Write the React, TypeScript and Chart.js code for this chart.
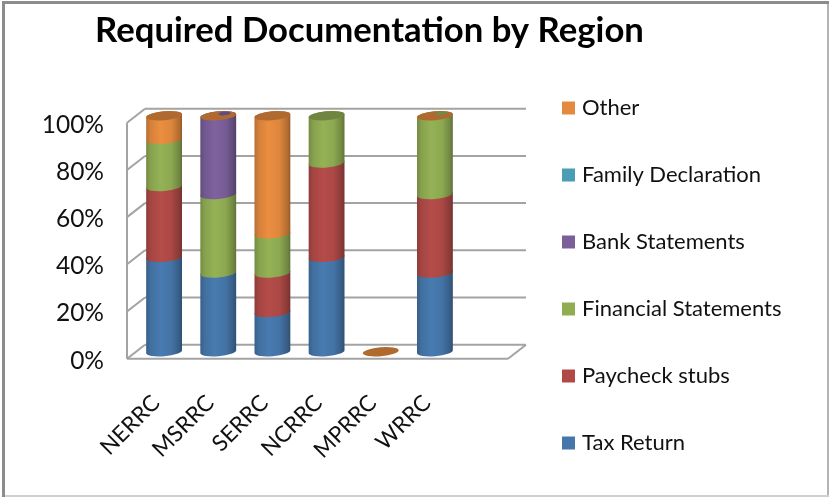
import React, { useEffect, useRef } from "react";
import { Chart, registerables } from "chart.js";

Chart.register(...registerables);

const categories = ["NERRC", "MSRRC", "SERRC", "NCRRC", "MPRRC", "WRRC"];
const taxReturn = [40, 33.33, 16.67, 40, 0, 33.33];
const paycheckStubs = [30, 0, 16.67, 40, 0, 33.33];
const financialStatements = [20, 33.33, 16.67, 20, 0, 33.34];
const bankStatements = [0, 33.34, 0, null, 0, 0];
const familyDeclaration = [0, 0, 0, null, 0, 0];
const other = [10, 0, 50, null, 0, 0];
const yTicks = [0, 20, 40, 60, 80, 100];

const seriesNames = ["Tax Return", "Paycheck stubs", "Financial Statements", "Bank Statements", "Family Declaration", "Other"];
const seriesValues = [taxReturn, paycheckStubs, financialStatements, bankStatements, familyDeclaration, other];
const seriesColors = ["#4677ab", "#b04a47", "#90ad53", "#7a5f9a", "#4a9db5", "#e48a3e"];

const W = 829;
const H = 497;
const FONT = "Lato, Carlito, sans-serif";
const TILT = (-5 * Math.PI) / 180;
const RY = 4.5;

function shade(hex: string, f: number) {
  const n = parseInt(hex.slice(1), 16);
  const c = [(n >> 16) & 255, (n >> 8) & 255, n & 255].map((v) => Math.round(Math.min(255, v * f)));
  return `rgb(${c[0]},${c[1]},${c[2]})`;
}

const scenePlugin = {
  id: "scene",
  beforeLayout(chart: any) {
    const legend = chart.legend;
    if (legend && !legend._patched) {
      legend._patched = true;
      const orig = legend.update.bind(legend);
      legend.update = (w: number, _h: number, m: any) => {
        orig(w, 800, m);
        legend.width = W - 462;
      };
    }
  },
  afterLayout(chart: any) {
    const legend = chart.legend;
    legend.left = 521;
    legend.right = 829;
    legend.top = 21;
    legend.bottom = 530;
    const t = chart.titleBlock;
    t.left = -45;
    t.right = W - 45;
  },
  beforeDraw(chart: any) {
    const c = chart.ctx;
    c.save();
    c.fillStyle = "#fff";
    c.fillRect(0, 0, W, H);
    c.fillStyle = "#b4b4b4";
    c.fillRect(827, 2, 2, H - 2);
    c.fillStyle = "#cfcfcf";
    c.fillRect(2, 495, W - 2, 2);
    c.fillStyle = "#8c8c8c";
    c.fillRect(2, 1, W - 2, 3);
    c.fillRect(2, 1, 3, H - 1);
    c.restore();
  },
  beforeDatasetsDraw(chart: any) {
    const c = chart.ctx;
    const { left, right } = chart.chartArea;
    const y = chart.scales.y;
    const fx = left - 10;
    const bx = left + 8;
    const frx = right + 46;
    const brx = right + 64;

    // walls and floor, from the value axis
    c.save();
    c.strokeStyle = "#a3a3a3";
    c.lineWidth = 2;
    const seg = (a: number, b: number, d: number, e: number) => {
      c.beginPath();
      c.moveTo(a, b);
      c.lineTo(d, e);
      c.stroke();
    };
    for (const v of yTicks) {
      const p = y.getPixelForValue(v);
      const back = p - 7;
      const front = p + 7;
      seg(bx, back, brx, back);
      seg(fx, front, bx, back);
    }
    const p0 = y.getPixelForValue(0);
    const p100 = y.getPixelForValue(100);
    seg(fx, p100 + 7, fx, p0 + 7);
    seg(fx, p0 + 7, frx, p0 + 7);
    seg(frx, p0 + 7, brx, p0 - 7);
    c.restore();

    // cylinders, read from the bar elements the controller laid out
    const metas = chart.data.datasets.map((_: any, i: number) => chart.getDatasetMeta(i));
    categories.forEach((_, i) => {
      let capColor: string | null = null;
      let solidColor: string | null = null;
      let cx = 0;
      let rx = 0;
      let topY = 0;
      metas.forEach((meta: any, d: number) => {
        const value = chart.data.datasets[d].data[i];
        if (value === null || value === undefined) return;
        const el = meta.data[i].getProps(["x", "y", "base", "width"], true);
        cx = el.x;
        rx = el.width / 2;
        topY = el.y;
        const color = seriesColors[d];
        capColor = color;
        if (value > 0) {
          solidColor = color;
          const g = c.createLinearGradient(cx - rx, 0, cx + rx, 0);
          g.addColorStop(0, shade(color, 0.8));
          g.addColorStop(0.12, shade(color, 0.93));
          g.addColorStop(0.4, shade(color, 1.03));
          g.addColorStop(0.7, shade(color, 0.97));
          g.addColorStop(0.92, shade(color, 0.78));
          g.addColorStop(1, shade(color, 0.66));
          c.beginPath();
          c.ellipse(cx, el.base, rx, RY, TILT, 0, Math.PI, false);
          c.ellipse(cx, el.y, rx, RY, TILT, Math.PI, 2 * Math.PI, false);
          c.closePath();
          c.fillStyle = g;
          c.fill();
        }
      });
      if (capColor) {
        c.beginPath();
        c.ellipse(cx, topY, rx, RY, TILT, 0, 2 * Math.PI);
        c.fillStyle = shade(capColor, 0.77);
        c.fill();
        if (solidColor && solidColor !== capColor) {
          c.beginPath();
          c.ellipse(cx + rx * 0.35, topY - RY * 0.5, rx * 0.34, RY * 0.42, TILT, 0, 2 * Math.PI);
          c.fillStyle = shade(solidColor, 0.8);
          c.fill();
        }
      }
    });
    return false;
  },
};

export default function App() {
  const ref = useRef<HTMLCanvasElement>(null);
  useEffect(() => {
    const chart = new Chart(ref.current as HTMLCanvasElement, {
      type: "bar",
      data: {
        labels: categories,
        datasets: seriesNames.map((name, i) => ({
          label: name,
          data: seriesValues[i],
          backgroundColor: seriesColors[i],
          borderWidth: 0,
          stack: "all",
          categoryPercentage: 1,
          barPercentage: 0.664,
        })),
      },
      plugins: [scenePlugin],
      options: {
        responsive: false,
        animation: false,
        layout: { padding: 0 },
        scales: {
          x: {
            stacked: true,
            grid: { display: false, drawTicks: false },
            border: { display: false },
            afterFit: (s: any) => {
              s.height = 145.3;
            },
            ticks: {
              autoSkip: false,
              minRotation: 45,
              maxRotation: 45,
              padding: 38,
              labelOffset: -8,
              color: "#111",
              font: { family: FONT, size: 22.5 },
            },
          },
          y: {
            stacked: true,
            min: 0,
            max: 100,
            grid: { display: false, drawTicks: false },
            border: { display: false },
            afterFit: (s: any) => {
              s.width = 137;
            },
            afterBuildTicks: (s: any) => {
              s.ticks = yTicks.map((value) => ({ value }));
            },
            ticks: {
              padding: 33,
              labelOffset: 9,
              color: "#111",
              font: { family: FONT, size: 24.5 },
              callback: (v: any) => `${v}%`,
            },
          },
        },
        plugins: {
          title: {
            display: true,
            text: "Required Documentation by Region",
            color: "#000",
            font: { family: FONT, size: 34.7, weight: "bold" },
            padding: { top: 10.2, bottom: 63.9 },
          },
          legend: {
            display: true,
            position: "right",
            reverse: true,
            labels: {
              boxWidth: 5,
              boxHeight: 5,
              padding: 45,
              color: "#111",
              font: { family: FONT, size: 22 },
              generateLabels: (chart: any) =>
                Chart.defaults.plugins.legend.labels.generateLabels(chart).map((item: any) => ({
                  ...item,
                  strokeStyle: item.fillStyle,
                  lineWidth: 8,
                })),
            },
          },
          tooltip: { enabled: false },
        },
      },
    } as any);
    return () => chart.destroy();
  }, []);
  return (
    <div style={{ position: "absolute", left: 0, top: 0, width: W, height: H }}>
      <canvas ref={ref} width={W} height={H} style={{ display: "block" }} />
    </div>
  );
}
